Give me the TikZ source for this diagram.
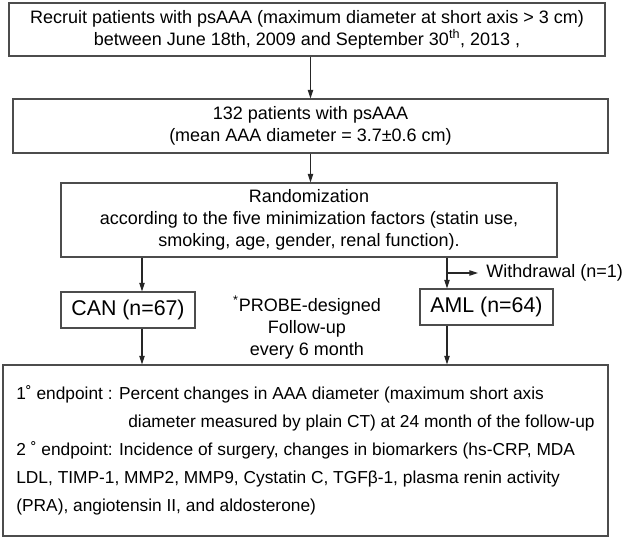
\documentclass[tikz,border=0pt]{standalone}
\usepackage{fontspec}
\setmainfont{Liberation Sans}
\usetikzlibrary{arrows.meta}
\newlength{\pxu}
\setlength{\pxu}{0.75pt}

\begin{document}
\begin{tikzpicture}[x=0.75pt,y=-0.75pt,
		box/.style={draw=black!70,line width=0.8pt,align=center,inner sep=0pt,font=\fontsize{13.5}{16.5}\selectfont},
		arr/.style={draw=black!85,line width=0.8pt,-{Triangle[length=6.5pt,width=4pt]}}]
		\useasboundingbox (0,0) rectangle (625,538);
		\node[box,minimum width=596\pxu,minimum height=53\pxu] (recruit) at (307,29.5) {Recruit patients with psAAA (maximum diameter at short axis > 3 cm)\\between June 18th, 2009 and September 30\textsuperscript{th}, 2013 ,};
		\node[box,minimum width=595\pxu,minimum height=54\pxu] (pts) at (310.5,126) {132 patients with psAAA\\(mean AAA diameter = 3.7±0.6 cm)};
		\node[box,minimum width=496\pxu,minimum height=74\pxu] (rand) at (309,220) {Randomization\\according to the five minimization factors (statin use,\\smoking, age, gender, renal function).};
		\node[box,font=\fontsize{16}{19}\selectfont,minimum width=134\pxu,minimum height=36\pxu] (can) at (128,310) {CAN (n=67)};
		\node[box,font=\fontsize{16}{19}\selectfont,minimum width=133\pxu,minimum height=36\pxu] (aml) at (486.5,307) {AML (n=64)};
		\node[align=center,inner sep=0pt,font=\fontsize{13.5}{16.5}\selectfont] (probe) at (307,328) {\textsuperscript{*}PROBE-designed\\Follow-up\\every 6 month};
		\node[anchor=west,inner xsep=6pt,inner ysep=0pt,font=\fontsize{13.5}{16.5}\selectfont] (withdraw) at (478,273) {Withdrawal (n=1)};
		\node[box,align=left,minimum width=605\pxu,minimum height=171\pxu,font=\fontsize{13}{21}\selectfont] (endp) at (305.5,450.5) {1˚ endpoint : Percent changes in AAA diameter (maximum short axis\\\hspace*{112\pxu}diameter measured by plain CT) at 24 month of the follow-up\\2 ˚ endpoint: Incidence of surgery, changes in biomarkers (hs-CRP, MDA\\LDL, TIMP-1, MMP2, MMP9, Cystatin C, TGFβ-1, plasma renin activity\\(PRA), angiotensin II, and aldosterone)};
		\draw[arr] (recruit.south -| pts.north) -- (pts.north);
		\draw[arr] (pts.south) -- (pts.south |- rand.north);
		\draw[arr] ([xshift=14\pxu]can.north |- rand.south) -- ([xshift=14\pxu]can.north);
		\draw[arr] ([xshift=14\pxu]can.south) -- ([xshift=14\pxu]can.south |- endp.north);
		\draw[arr] ([xshift=-39.5\pxu]aml.north |- rand.south) -- ([xshift=-39.5\pxu]aml.north);
		\draw[arr] ([xshift=-39.5\pxu]aml.north |- withdraw.west) -- (withdraw.west);
		\draw[arr] ([xshift=-39.5\pxu]aml.south) -- ([xshift=-39.5\pxu]aml.south |- endp.north);
	\end{tikzpicture}
\end{document}
